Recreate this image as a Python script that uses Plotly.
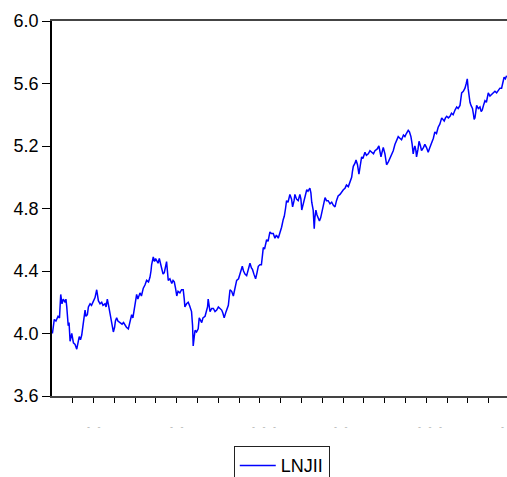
import plotly.graph_objects as go

obs = [2, 6, 11, 19, 29, 36, 42, 48, 54, 63, 67, 71, 75, 78, 82, 87, 95, 99, 103, 111,
       119, 125, 131, 137, 143, 149, 154, 159, 163, 170, 175, 183, 190, 199, 207, 215, 219, 223, 231, 239,
       245, 255, 260, 266, 272, 279, 286, 291, 295, 301, 305, 311, 317, 327, 337, 344, 351, 358, 367, 375,
       383, 389, 399, 407, 413, 423, 430, 439, 447, 455, 464, 471, 476, 479, 487, 493, 498, 503, 510, 516,
       522, 527, 534, 540, 546, 551, 555, 559, 567, 576, 582, 588, 594, 600, 606, 615, 623, 631, 636, 639,
       647, 655, 661, 666, 671, 676, 679, 684, 688, 695, 703, 708, 714, 720, 726, 736, 744, 748, 751, 756,
       760, 768, 776, 784, 792, 800, 808, 816, 822, 828, 837, 844, 848, 856, 864, 872, 880, 888, 897, 904,
       911, 915, 921, 928, 936, 945, 952, 959, 964, 971, 979, 986, 992, 1000, 1007, 1012, 1016, 1022, 1026, 1032,
       1039, 1043, 1048, 1055, 1064, 1072, 1079, 1088, 1096, 1104, 1112, 1117, 1123, 1128, 1135, 1144, 1152, 1157, 1164, 1168,
       1176, 1184, 1192, 1197, 1201, 1207, 1212, 1219, 1225, 1231, 1240, 1245, 1249, 1256, 1261, 1264, 1269, 1274, 1280, 1286,
       1292, 1298, 1304, 1308, 1313, 1320, 1328, 1337, 1345, 1353, 1361, 1368, 1376, 1385, 1393, 1401, 1409, 1416, 1425, 1433,
       1441, 1445, 1449, 1457, 1462, 1469, 1476, 1483, 1489, 1495, 1505, 1512, 1521, 1529, 1537, 1546, 1553, 1563, 1572, 1577,
       1582, 1587, 1593, 1601, 1609, 1618, 1625, 1632, 1641, 1649, 1657, 1665, 1673, 1681, 1690, 1697, 1704, 1713, 1719, 1726,
       1732, 1737, 1741, 1745, 1750, 1753, 1760, 1765, 1772, 1777, 1786, 1793, 1801, 1809, 1817, 1826, 1834, 1841, 1849, 1857,
       1865, 1874, 1880, 1886, 1892, 1898, 1906, 1914, 1921, 1929, 1938, 1946, 1953, 1962, 1966, 1970, 1978, 1986, 1992, 1997,
       2001, 2005, 2010, 2015, 2022, 2027, 2030, 2034, 2039, 2042, 2050, 2058, 2064, 2069, 2075, 2082, 2089, 2098, 2106, 2114,
       2123, 2130, 2138, 2146, 2154, 2162, 2168, 2174, 2180, 2186]

lnjii = [4.00, 4.03, 4.09, 4.08, 4.11, 4.10, 4.25, 4.19, 4.22, 4.20, 4.22, 4.17, 4.12, 4.05, 4.07, 3.95, 4.00, 3.96, 3.94, 3.93,
         3.90, 3.94, 3.98, 3.96, 3.99, 4.05, 4.10, 4.15, 4.11, 4.12, 4.17, 4.19, 4.18, 4.21, 4.23, 4.28, 4.24, 4.21, 4.19, 4.20,
         4.18, 4.19, 4.17, 4.22, 4.18, 4.12, 4.06, 4.03, 4.01, 4.04, 4.08, 4.10, 4.08, 4.07, 4.06, 4.07, 4.05, 4.04, 4.03, 4.07,
         4.12, 4.10, 4.19, 4.25, 4.22, 4.26, 4.24, 4.29, 4.31, 4.34, 4.33, 4.36, 4.40, 4.44, 4.49, 4.46, 4.48, 4.47, 4.45, 4.48,
         4.44, 4.41, 4.38, 4.39, 4.43, 4.46, 4.40, 4.34, 4.35, 4.32, 4.34, 4.33, 4.29, 4.24, 4.27, 4.26, 4.28, 4.28, 4.22, 4.17,
         4.19, 4.20, 4.18, 4.16, 4.14, 4.05, 3.92, 3.98, 4.02, 4.01, 4.03, 4.10, 4.08, 4.07, 4.10, 4.11, 4.15, 4.17, 4.22, 4.17,
         4.14, 4.16, 4.16, 4.14, 4.15, 4.17, 4.16, 4.15, 4.13, 4.10, 4.14, 4.17, 4.18, 4.28, 4.27, 4.24, 4.29, 4.34, 4.35, 4.38,
         4.40, 4.43, 4.40, 4.38, 4.37, 4.41, 4.45, 4.42, 4.41, 4.38, 4.35, 4.39, 4.43, 4.44, 4.44, 4.50, 4.55, 4.54, 4.57, 4.60,
         4.59, 4.63, 4.65, 4.64, 4.64, 4.61, 4.63, 4.61, 4.64, 4.68, 4.73, 4.75, 4.80, 4.85, 4.84, 4.89, 4.86, 4.81, 4.85, 4.89,
         4.86, 4.85, 4.89, 4.86, 4.79, 4.82, 4.84, 4.88, 4.92, 4.91, 4.93, 4.90, 4.84, 4.79, 4.67, 4.74, 4.79, 4.76, 4.74, 4.72,
         4.74, 4.78, 4.81, 4.85, 4.87, 4.85, 4.85, 4.83, 4.84, 4.82, 4.81, 4.85, 4.88, 4.89, 4.91, 4.92, 4.93, 4.95, 4.94, 4.97,
         5.00, 5.04, 5.07, 5.09, 5.11, 5.08, 5.02, 5.08, 5.13, 5.12, 5.16, 5.14, 5.15, 5.17, 5.16, 5.15, 5.17, 5.18, 5.20, 5.17,
         5.13, 5.16, 5.19, 5.15, 5.08, 5.10, 5.12, 5.15, 5.17, 5.21, 5.23, 5.26, 5.25, 5.24, 5.27, 5.26, 5.28, 5.30, 5.29, 5.26,
         5.21, 5.15, 5.18, 5.20, 5.17, 5.13, 5.18, 5.23, 5.20, 5.17, 5.19, 5.21, 5.19, 5.16, 5.19, 5.22, 5.25, 5.29, 5.28, 5.32,
         5.34, 5.38, 5.37, 5.36, 5.38, 5.39, 5.38, 5.39, 5.41, 5.40, 5.43, 5.45, 5.44, 5.46, 5.50, 5.54, 5.55, 5.57, 5.60, 5.63,
         5.57, 5.51, 5.48, 5.46, 5.44, 5.40, 5.37, 5.38, 5.43, 5.46, 5.44, 5.45, 5.42, 5.43, 5.46, 5.49, 5.48, 5.54, 5.52, 5.53,
         5.54, 5.55, 5.54, 5.56, 5.57, 5.57, 5.60, 5.64, 5.63, 5.65]

y_ticks = [3.6, 4.0, 4.4, 4.8, 5.2, 5.6, 6.0]
x_ticks = list(range(100, 2200, 100))
# faint remnants of the clipped date labels
frag_obs = [200, 599, 1019, 1392, 1817, 2164]
frag_text = ["-\u00a0\u00a0\u00a0-", "-\u00a0\u00a0\u00a0-", "-\u00a0\u00a0\u00a0-\u00a0\u00a0\u00a0-",
             "-\u00a0\u00a0\u00a0-", "-\u00a0\u00a0\u00a0-\u00a0\u00a0\u00a0-", "-"]

fig = go.Figure()
fig.add_trace(go.Scatter(x=obs, y=lnjii, mode="lines", name="LNJII",
                         line=dict(color="#0000FF", width=1.5)))

for xo, t in zip(frag_obs, frag_text):
    fig.add_annotation(x=xo, xref="x", y=-0.082, yref="paper", text=t, showarrow=False,
                       font=dict(family="Arial, Liberation Sans", size=9, color="#b0b0b0"),
                       xanchor="center", yanchor="middle")

fig.update_layout(
    width=507, height=477,
    margin=dict(l=52, r=0, t=21, b=81, autoexpand=False),
    paper_bgcolor="white", plot_bgcolor="white",
    font=dict(family="Arial, Liberation Sans", size=18, color="black"),
    showlegend=True,
    legend=dict(x=0.505, xanchor="center", y=-0.134, yanchor="top",
                bordercolor="#222222", borderwidth=1, bgcolor="white",
                font=dict(size=18, color="black"), itemwidth=36),
    xaxis=dict(range=[0, 2188], tickvals=x_ticks, ticktext=[""] * len(x_ticks),
               ticks="outside", ticklen=5, tickcolor="black", tickwidth=1.2,
               showline=True, linecolor="#444444", linewidth=1.5, mirror=True,
               showgrid=False, zeroline=False),
    yaxis=dict(range=[3.6, 6.0], tickvals=y_ticks, tickformat=".1f",
               ticks="outside", ticklen=8, tickcolor="black", tickwidth=1,
               showline=True, linecolor="black", linewidth=1.5,
               showgrid=False, zeroline=False),
)

fig.write_html("out.html", config={"displayModeBar": False},
               post_script="document.body.style.margin='0';document.body.style.overflow='hidden';")
